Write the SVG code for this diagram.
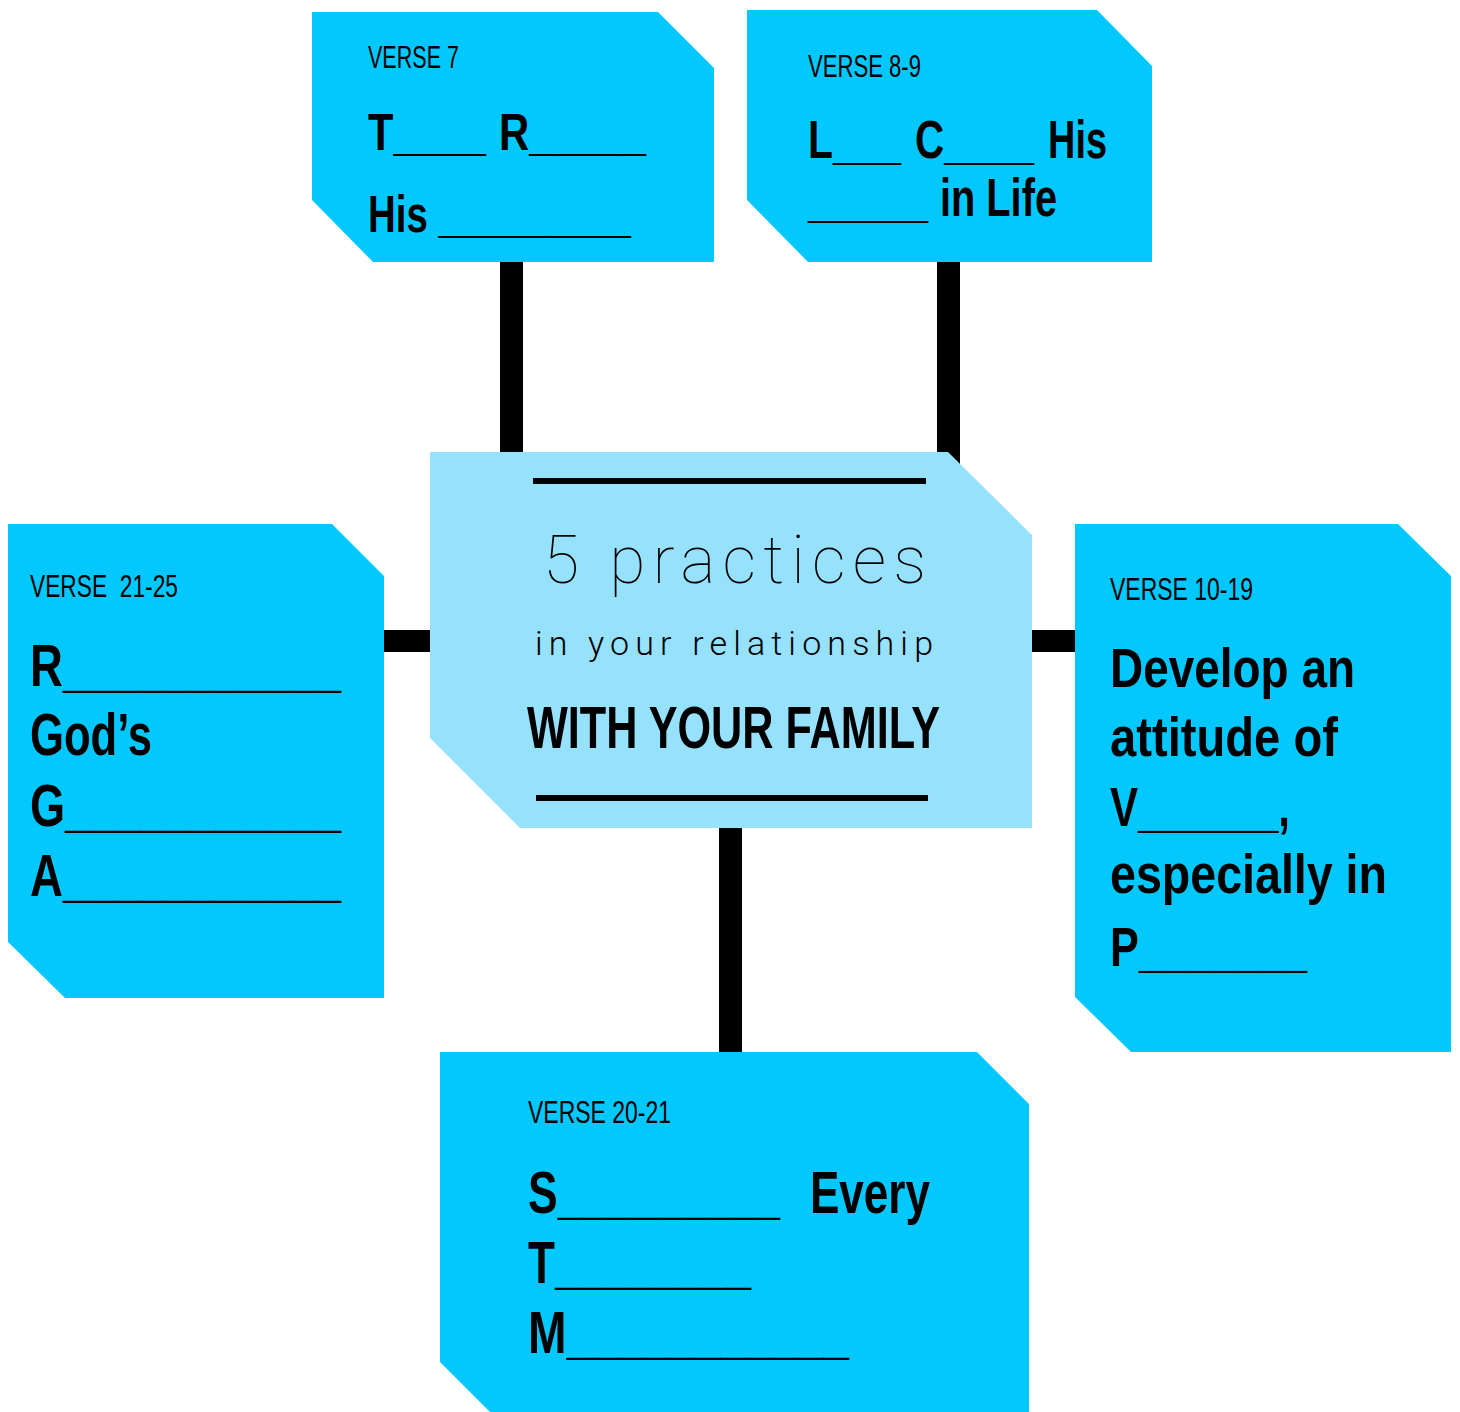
<svg xmlns="http://www.w3.org/2000/svg" width="1460" height="1412" viewBox="0 0 1460 1412">
<style>
.node{fill:#03C8FD}
.center{fill:#96E2FD}
.bar{fill:#000}
.verse{font-family:"Liberation Sans Narrow","Liberation Sans",Arial,sans-serif;font-size:32px;fill:#000}
.big{font-family:"Liberation Sans Narrow","Liberation Sans",Arial,sans-serif;font-weight:bold;fill:#000}
.thin{font-family:Roboto,Lato,"Open Sans",sans-serif;font-weight:100;fill:#000}
.light{font-family:Roboto,Lato,"Open Sans",sans-serif;font-weight:300;fill:#000}
</style>
<rect width="1460" height="1412" fill="#fff"/>
<g id="connectors">
<rect class="bar" x="500" y="262" width="23" height="195"/>
<rect class="bar" x="937" y="262" width="23" height="210"/>
<rect class="bar" x="380" y="630" width="54" height="22"/>
<rect class="bar" x="1028" y="630" width="51" height="22"/>
<rect class="bar" x="719" y="824" width="23" height="232"/>
</g>
<g id="node-verse7">
<polygon class="node" points="312,12 658,12 714,68 714,262 373,262 312,200"/>
<text class="verse" x="368" y="68" textLength="91" lengthAdjust="spacingAndGlyphs">VERSE 7</text>
<text class="big" x="368" y="150" font-size="52" textLength="118" lengthAdjust="spacingAndGlyphs">T____</text>
<text class="big" x="499" y="150" font-size="52" textLength="147" lengthAdjust="spacingAndGlyphs">R_____</text>
<text class="big" x="368" y="232" font-size="52" textLength="263" lengthAdjust="spacingAndGlyphs">His _________</text>
</g>
<g id="node-verse8-9">
<polygon class="node" points="747,10 1097,10 1152,66 1152,262 808,262 747,200"/>
<text class="verse" x="808" y="77" textLength="113" lengthAdjust="spacingAndGlyphs">VERSE 8-9</text>
<text class="big" x="808" y="158" font-size="53" textLength="93" lengthAdjust="spacingAndGlyphs">L___</text>
<text class="big" x="915" y="158" font-size="53" textLength="119" lengthAdjust="spacingAndGlyphs">C____</text>
<text class="big" x="1048" y="158" font-size="53" textLength="59" lengthAdjust="spacingAndGlyphs">His</text>
<text class="big" x="808" y="216" font-size="53" textLength="120" lengthAdjust="spacingAndGlyphs">_____</text>
<text class="big" x="940" y="216" font-size="53" textLength="117" lengthAdjust="spacingAndGlyphs">in Life</text>
</g>
<g id="node-center">
<polygon class="center" points="430,452 948,452 1032,535 1032,828 520,828 430,738"/>
<rect class="bar" x="533" y="478" width="393" height="6"/>
<rect class="bar" x="536" y="795" width="392" height="6"/>
<text class="thin" x="543" y="583" font-size="66" textLength="383">5 practices</text>
<text class="light" x="535" y="655" font-size="34" textLength="398">in your relationship</text>
<text class="big" x="527" y="748" font-size="60" textLength="413" lengthAdjust="spacingAndGlyphs">WITH YOUR FAMILY</text>
</g>
<g id="node-verse21-25">
<polygon class="node" points="8,524 332,524 384,576 384,998 65,998 8,942"/>
<text class="verse" x="30" y="597" textLength="148" lengthAdjust="spacingAndGlyphs">VERSE&#160; 21-25</text>
<text class="big" x="30" y="686" font-size="60" textLength="311" lengthAdjust="spacingAndGlyphs">R___________</text>
<text class="big" x="30" y="755" font-size="60" textLength="122" lengthAdjust="spacingAndGlyphs">God’s</text>
<text class="big" x="30" y="826" font-size="60" textLength="311" lengthAdjust="spacingAndGlyphs">G___________</text>
<text class="big" x="30" y="896" font-size="60" textLength="311" lengthAdjust="spacingAndGlyphs">A___________</text>
</g>
<g id="node-verse10-19">
<polygon class="node" points="1075,524 1398,524 1451,576 1451,1052 1131,1052 1075,997"/>
<text class="verse" x="1110" y="600" textLength="143" lengthAdjust="spacingAndGlyphs">VERSE 10-19</text>
<text class="big" x="1110" y="687" font-size="56" textLength="245" lengthAdjust="spacingAndGlyphs">Develop an</text>
<text class="big" x="1110" y="756" font-size="56" textLength="228" lengthAdjust="spacingAndGlyphs">attitude of</text>
<text class="big" x="1110" y="826" font-size="56" textLength="180" lengthAdjust="spacingAndGlyphs">V______,</text>
<text class="big" x="1110" y="893" font-size="56" textLength="277" lengthAdjust="spacingAndGlyphs">especially in</text>
<text class="big" x="1110" y="966" font-size="56" textLength="197" lengthAdjust="spacingAndGlyphs">P_______</text>
</g>
<g id="node-verse20-21">
<polygon class="node" points="440,1052 977,1052 1029,1104 1029,1412 490,1412 440,1362"/>
<text class="verse" x="528" y="1123" textLength="143" lengthAdjust="spacingAndGlyphs">VERSE 20-21</text>
<text class="big" x="528" y="1213" font-size="60" textLength="252" lengthAdjust="spacingAndGlyphs">S_________</text>
<text class="big" x="810" y="1213" font-size="60" textLength="120" lengthAdjust="spacingAndGlyphs">Every</text>
<text class="big" x="528" y="1283" font-size="60" textLength="223" lengthAdjust="spacingAndGlyphs">T________</text>
<text class="big" x="528" y="1353" font-size="60" textLength="321" lengthAdjust="spacingAndGlyphs">M___________</text>
</g>
</svg>
